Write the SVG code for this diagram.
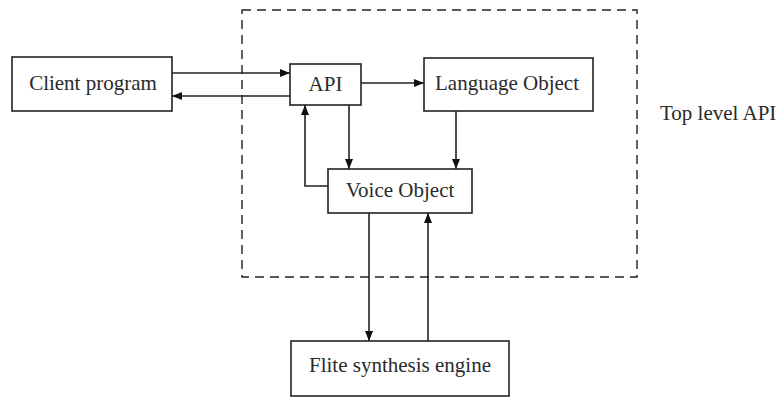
<svg xmlns="http://www.w3.org/2000/svg" width="780" height="398" viewBox="0 0 780 398">
  <style>
    .box { fill: #fff; stroke: #222; stroke-width: 1.6; }
    .lbl { font-family: "Liberation Serif", "Times New Roman", serif; font-size: 21px; fill: #2a2a2a; text-anchor: middle; }
    .wire { fill: none; stroke: #222; stroke-width: 1.6; marker-end: url(#head); }
    .frame { fill: none; stroke: #222; stroke-width: 1.4; stroke-dasharray: 9 6; }
  </style>
  <defs>
    <marker id="head" viewBox="0 0 10 8" refX="10" refY="4" markerWidth="10" markerHeight="8" markerUnits="userSpaceOnUse" orient="auto">
      <path d="M0,0 L10,4 L0,8 Z" fill="#111"/>
    </marker>
  </defs>
  <rect width="780" height="398" fill="#fff"/>

  <!-- dashed boundary of the top level API -->
  <rect class="frame" x="242" y="10" width="395" height="267"/>
  <text class="lbl" x="660" y="120" style="text-anchor:start">Top level API</text>

  <g id="connectors">
    <path class="wire" d="M172,73 H290"/>
    <path class="wire" d="M290,96 H172"/>
    <path class="wire" d="M361,83 H424"/>
    <path class="wire" d="M349,105 V169"/>
    <path class="wire" d="M328,186 H305 V105"/>
    <path class="wire" d="M456,111 V169"/>
    <path class="wire" d="M369,213 V341"/>
    <path class="wire" d="M428,341 V213"/>
  </g>

  <g id="client">
    <rect class="box" x="12" y="57" width="160" height="54"/>
    <text class="lbl" x="93" y="90">Client program</text>
  </g>
  <g id="api">
    <rect class="box" x="290" y="64" width="71" height="41"/>
    <text class="lbl" x="325.5" y="91">API</text>
  </g>
  <g id="language">
    <rect class="box" x="424" y="58" width="169" height="53"/>
    <text class="lbl" x="507" y="90">Language Object</text>
  </g>
  <g id="voice">
    <rect class="box" x="328" y="169" width="144" height="44"/>
    <text class="lbl" x="400" y="197">Voice Object</text>
  </g>
  <g id="flite">
    <rect class="box" x="291" y="341" width="218" height="55"/>
    <text class="lbl" x="400" y="372">Flite synthesis engine</text>
  </g>
</svg>
